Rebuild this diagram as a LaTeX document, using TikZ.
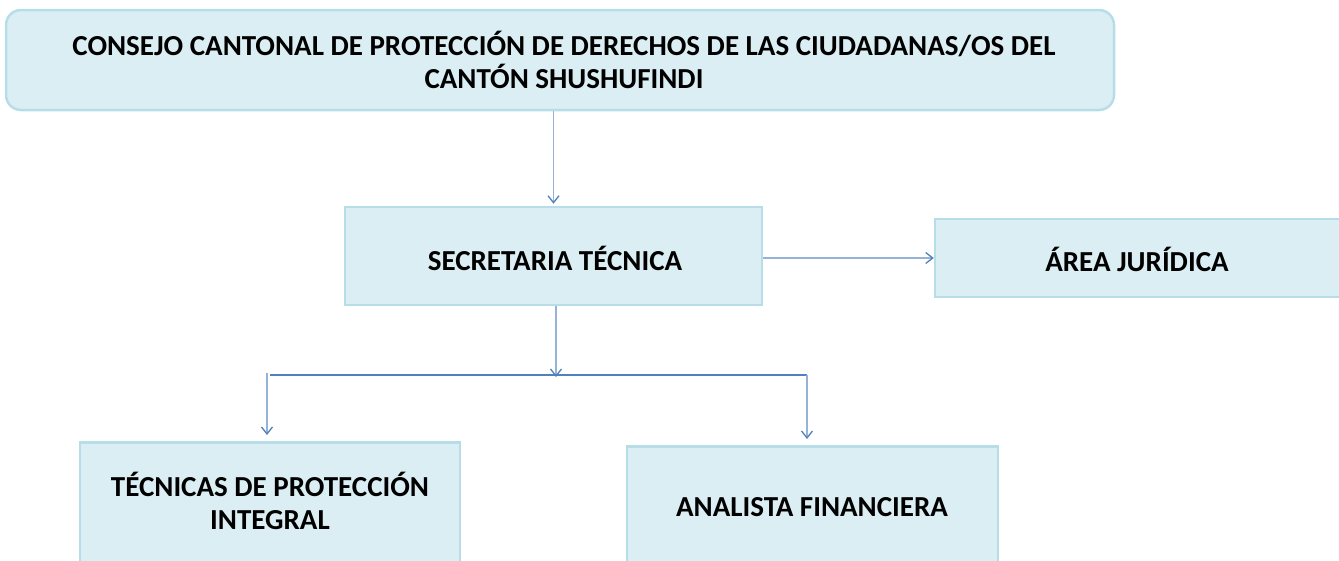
\documentclass[tikz,border=0pt]{standalone}
\usepackage{fontspec}
\setmainfont{Carlito}
\usetikzlibrary{arrows.meta}
\definecolor{boxfill}{HTML}{DAEEF3}
\definecolor{boxline}{HTML}{B7DDE8}
\definecolor{linkdark}{HTML}{4F81BD}
\definecolor{linklight}{HTML}{95B3D7}
\tikzset{
  x=1pt, y=-1pt,
  box/.style={draw=boxline, line width=2.5pt, fill=boxfill, inner sep=0pt},
  txt/.style={font=\fontsize{29}{33}\selectfont\bfseries, align=center, inner sep=0pt},
  link/.style={draw=linklight, line width=1.3pt, -{Straight Barb[length=7pt,width=11pt,color=linkdark]}},
  flat/.style={draw=linkdark, line width=1.3pt}
}
\begin{document}
\begin{tikzpicture}
\useasboundingbox (0,0) rectangle (1339,560);
\clip (0,0) rectangle (1339,560);
% boxes
\node[box, rounded corners=15pt, minimum width=1108pt, minimum height=100pt] (top) at (560,60) {};
\node[txt] (toptxt) at (564,60) {CONSEJO CANTONAL DE PROTECCIÓN DE DERECHOS DE LAS CIUDADANAS/OS DEL\\CANTÓN SHUSHUFINDI};
\node[box, minimum width=417pt, minimum height=98pt] (sec) at (553.5,256) {};
\node[txt] (sectxt) at (555,258) {SECRETARIA TÉCNICA};
\node[box, minimum width=406pt, minimum height=78pt] (jur) at (1138,258) {};
\node[txt] (jurtxt) at (1137,259) {ÁREA JURÍDICA};
\node[box, minimum width=380pt, minimum height=140pt, anchor=north] (tec) at (270,441) {};
\node[txt] (tectxt) at (270,501) {TÉCNICAS DE PROTECCIÓN\\INTEGRAL};
\node[box, minimum width=371pt, minimum height=140pt, anchor=north] (fin) at (812.5,445) {};
\node[txt] (fintxt) at (812,507) {ANALISTA FINANCIERA};
% connectors
\coordinate (hL) at (270,375);
\coordinate (hR) at (807,375);
\coordinate (tecIn) at (267,373);
\draw[link] (sec.north |- top.south) -- ([yshift=2pt]sec.north);
\draw[link] (sec.east |- 0,258) -- (jur.west |- 0,258);
\draw[link] (sec.south -| 556,0) -- (556,377);
\draw[flat] (hL) -- (hR);
\draw[link, shorten >=6pt] (tecIn) -- (tecIn |- tec.north);
\draw[link, shorten >=6pt] (hR) -- (hR |- fin.north);
\end{tikzpicture}
\end{document}
